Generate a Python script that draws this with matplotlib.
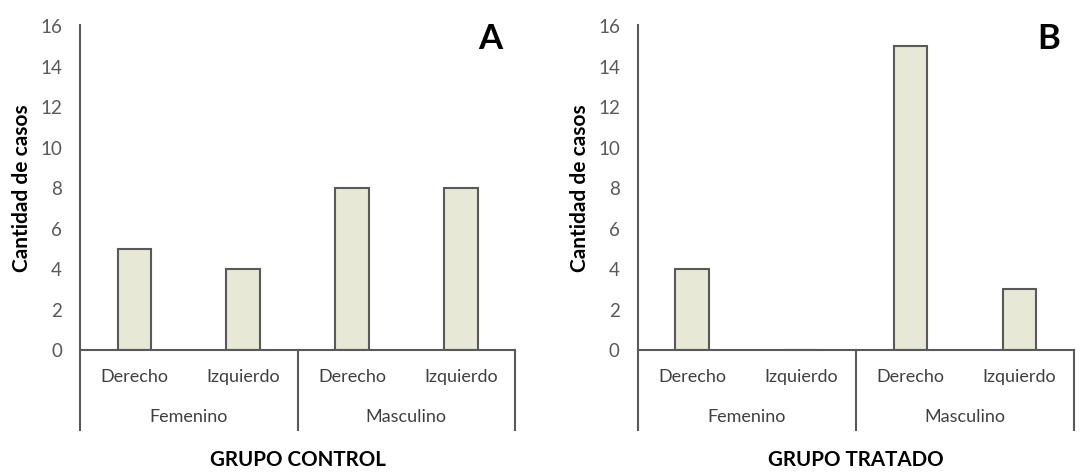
import matplotlib.pyplot as plt
import matplotlib.transforms as mtransforms

plt.rcParams['font.family'] = ['Lato', 'DejaVu Sans']

lados = ["Derecho", "Izquierdo", "Derecho", "Izquierdo"]
sexos = ["Femenino", "Masculino"]
casos_control = [5, 4, 8, 8]
casos_tratado = [4, 0, 15, 3]
grupos = ["GRUPO CONTROL", "GRUPO TRATADO"]
letras = ["A", "B"]

relleno = "#e8e8d6"
borde = "#595959"
gris = "#595959"

fig = plt.figure(figsize=(10.83, 4.74), dpi=100)
ax_a = fig.add_axes([0.0739, 0.2616, 0.4017, 0.6835])
ax_b = fig.add_axes([0.589, 0.2616, 0.4026, 0.6835])


def panel(ax, valores, grupo, letra):
    pos = [i + 0.5 for i in range(len(valores))]
    ax.bar(pos, valores, width=0.31, color=relleno, edgecolor=borde, linewidth=1.5, zorder=3)
    ax.set_xlim(0, 4)
    ax.set_ylim(0, 16)
    ax.set_yticks(range(0, 17, 2))
    ax.tick_params(axis='y', length=0, pad=13, labelsize=13.5, labelcolor=gris)
    ax.set_xticks([])
    for s in ["top", "right", "bottom", "left"]:
        ax.spines[s].set_visible(False)
    ax.set_ylabel("Cantidad de casos", fontsize=15, fontweight='bold', labelpad=6)

    tr = mtransforms.blended_transform_factory(ax.transData, ax.transAxes)
    # eje x y separadores de la jerarquía de categorías
    ax.plot([0, 4], [0, 0], color=gris, lw=1.5, transform=tr, clip_on=False, zorder=4)
    for x in [0, 2, 4]:
        top = 1.003 if x == 0 else 0
        ax.plot([x, x], [top, -0.247], color=gris, lw=1.5, transform=tr, clip_on=False)
    for p, lado in zip(pos, lados):
        ax.text(p, -0.083, lado, transform=tr, ha='center', va='center',
                fontsize=13, color="#404040")
    for i, sexo in enumerate(sexos):
        ax.text(2 * i + 1, -0.207, sexo, transform=tr, ha='center', va='center',
                fontsize=13, color="#404040")
    ax.text(2, -0.34, grupo, transform=tr, ha='center', va='center',
            fontsize=14.8, fontweight='bold', color="black")
    ax.text(3.77, 0.96, letra, transform=tr, ha='center', va='center',
            fontsize=25, fontweight='bold', color="black")


panel(ax_a, casos_control, grupos[0], letras[0])
panel(ax_b, casos_tratado, grupos[1], letras[1])

fig.savefig("out.png", dpi=100)
